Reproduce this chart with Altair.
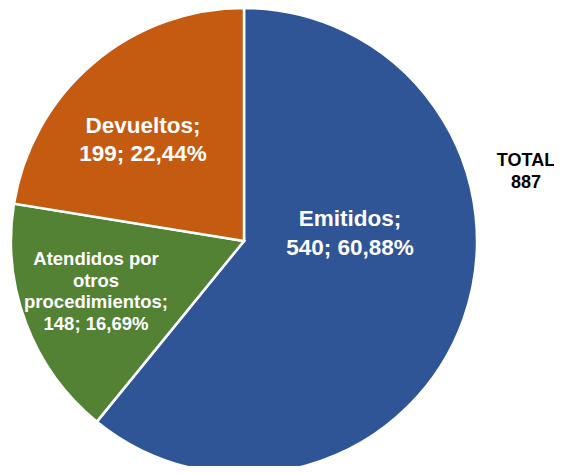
import altair as alt
import pandas as pd

categories = ["Emitidos", "Atendidos por otros procedimientos", "Devueltos"]
values = [540, 148, 199]
percents = ["60,88%", "16,69%", "22,44%"]
order = [1, 2, 3]
colors = ["#2F5597", "#548235", "#C55A11"]
total_label = ["TOTAL", "887"]

df = pd.DataFrame({"cat": categories, "val": values, "ord": order})

pie = alt.Chart(df).mark_arc(stroke="white", strokeWidth=2.5, radius=233).encode(
    theta=alt.Theta("val:Q", stack=True),
    order=alt.Order("ord:Q"),
    color=alt.Color("cat:N", scale=alt.Scale(domain=categories, range=colors), legend=None),
    x=alt.value(236),
    y=alt.value(233),
)

def label(lines, x, y, size, lh, color="white"):
    return alt.Chart(pd.DataFrame({"t": [lines]})).mark_text(
        font="Liberation Sans", fontWeight="bold", fontSize=size, lineHeight=lh,
        align="center", baseline="middle", color=color,
    ).encode(text="t:N", x=alt.value(x), y=alt.value(y))

l1 = label([f"{categories[0]};", f"{values[0]}; {percents[0]}"], 342, 211, 22.5, 29)
l2 = label(["Atendidos por", "otros", "procedimientos;", f"{values[1]}; {percents[1]}"], 88, 251, 18.5, 21.5)
l3 = label([f"{categories[2]};", f"{values[2]}; {percents[2]}"], 135, 118, 22.5, 28)
l4 = label(total_label, 518, 153, 18, 22, color="black")

chart = alt.layer(pie, l1, l2, l3, l4).properties(
    width=546, height=458, autosize=alt.AutoSizeParams(type="none"), padding=0
).configure_view(stroke=None)

chart.save("out.html", embed_options={"renderer": "svg", "actions": False})
